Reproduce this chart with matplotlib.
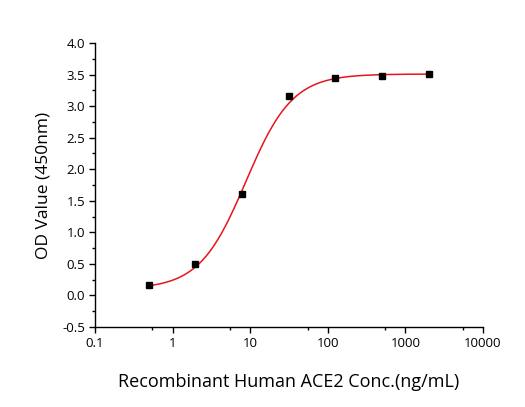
import numpy as np
import matplotlib.pyplot as plt
from matplotlib.ticker import FixedLocator, MultipleLocator, FormatStrFormatter

plt.rcParams['font.family'] = ['Open Sans', 'DejaVu Sans']

# Measured points (concentration in ng/mL, OD at 450nm)
conc = [0.49, 1.95, 7.8, 31.25, 125, 500, 2000]
od = [0.16, 0.50, 1.60, 3.16, 3.45, 3.48, 3.51]

# 4-parameter logistic fit
fit_bottom = 0.10
fit_top = 3.51
fit_ec50 = 8.8
fit_hill = 1.45

x_ticks = [0.1, 1, 10, 100, 1000, 10000]
x_tick_labels = ['0.1', '1', '10', '100', '1000', '10000']


def logistic4(x):
    return fit_bottom + (fit_top - fit_bottom) / (1 + (fit_ec50 / x) ** fit_hill)


fig = plt.figure(figsize=(5.25, 4.07), dpi=100)
ax = fig.add_axes([0.181, 0.197, 0.739, 0.697])

xs = np.logspace(np.log10(conc[0]), np.log10(conc[-1]), 300)
ax.plot(xs, logistic4(xs), color='#e8141c', lw=1.1, zorder=2)
ax.plot(conc, od, 's', color='black', ms=5, zorder=3)

ax.set_xscale('log')
ax.set_xlim(0.1, 10000)
ax.set_ylim(-0.5, 4.0)
ax.xaxis.set_major_locator(FixedLocator(x_ticks))
ax.xaxis.set_minor_locator(FixedLocator([0.55, 5.5, 55, 550, 5500]))
ax.set_xticklabels(x_tick_labels)
ax.yaxis.set_major_locator(MultipleLocator(0.5))
ax.yaxis.set_minor_locator(MultipleLocator(0.25))
ax.yaxis.set_major_formatter(FormatStrFormatter('%.1f'))

for s in ['top', 'right']:
    ax.spines[s].set_visible(False)
for s in ['left', 'bottom']:
    ax.spines[s].set_linewidth(1.0)

ax.tick_params(which='major', direction='out', length=4, width=1, labelsize=9.5, pad=3)
ax.tick_params(which='minor', direction='out', length=2.5, width=1)

ax.set_xlabel('Recombinant Human ACE2 Conc.(ng/mL)', fontsize=13, labelpad=17)
ax.set_ylabel('OD Value (450nm)', fontsize=12.5, labelpad=8)

fig.savefig('out.png', dpi=100)
